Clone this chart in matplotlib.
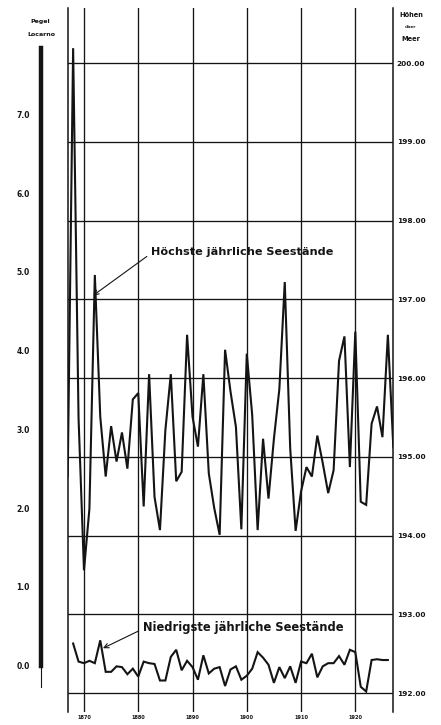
import matplotlib.pyplot as plt

# Jahre und Seestände (m ü. M.), Lago Maggiore
hoch_jahre = list(range(1867, 1928))
hoch = [194.75, 200.19, 195.49, 193.56, 194.34, 197.31, 195.51, 194.75, 195.39, 194.94,
        195.31, 194.85, 195.73, 195.81, 194.37, 196.05, 194.49, 194.07, 195.34, 196.05,
        194.69, 194.81, 196.55, 195.51, 195.13, 196.05, 194.79, 194.35, 194.01, 196.36,
        195.83, 195.38, 194.08, 196.31, 195.53, 194.07, 195.23, 194.47, 195.23, 195.86,
        197.22, 195.11, 194.06, 194.56, 194.87, 194.75, 195.27, 194.92, 194.54, 194.83,
        196.22, 196.53, 194.87, 196.59, 194.43, 194.39, 195.42, 195.64, 195.25, 196.55,
        195.13]

tief_jahre = list(range(1868, 1927))
tief = [192.63, 192.40, 192.38, 192.41, 192.38, 192.67, 192.27, 192.27, 192.34, 192.33,
        192.24, 192.31, 192.21, 192.40, 192.38, 192.37, 192.16, 192.16, 192.46, 192.55,
        192.29, 192.41, 192.33, 192.17, 192.48, 192.25, 192.31, 192.33, 192.09, 192.30,
        192.34, 192.17, 192.22, 192.31, 192.52, 192.45, 192.36, 192.13, 192.33, 192.19,
        192.34, 192.13, 192.40, 192.38, 192.50, 192.20, 192.34, 192.38, 192.38, 192.47,
        192.36, 192.55, 192.52, 192.08, 192.02, 192.42, 192.43, 192.42, 192.42]

jahr_ticks = [1870, 1880, 1890, 1900, 1910, 1920]
hoehen_ticks = [192, 193, 194, 195, 196, 197, 198, 199, 200]
pegel_ticks = [0, 1, 2, 3, 4, 5, 6, 7]
pegel_null = 192.35   # Nullpunkt Pegel Locarno
pegel_max = 7.84

ink = '#141414'
W, H = 441, 725
ylo, yhi = 191.76, 200.70

fig = plt.figure(figsize=(W / 100, H / 100), dpi=100)
fig.patch.set_facecolor('white')

# Hauptdiagramm
ax = fig.add_axes([67.7 / W, 1 - 712 / H, (393.3 - 67.7) / W, (712 - 8) / H])
ax.set_xlim(1867, 1927)
ax.set_ylim(ylo, yhi)
ax.plot(hoch_jahre, hoch, color=ink, lw=1.5, solid_joinstyle='miter')
ax.plot(tief_jahre, tief, color=ink, lw=1.5, solid_joinstyle='miter')

ax.set_xticks(jahr_ticks)
ax.set_xticklabels([str(j) for j in jahr_ticks], fontsize=3.6, fontweight='bold', color=ink)
ax.yaxis.tick_right()
ax.set_yticks(hoehen_ticks)
ax.set_yticklabels(['%.2f' % h for h in hoehen_ticks], fontsize=5.3, fontweight='bold', color=ink)
ax.tick_params(axis='x', length=0, pad=2)
ax.tick_params(axis='y', length=0, pad=2.5)
ax.grid(True, color=ink, lw=0.95)
for s in ['top', 'bottom']:
    ax.spines[s].set_visible(False)
for s in ['left', 'right']:
    ax.spines[s].set_color(ink)
    ax.spines[s].set_linewidth(1.1)

# Beschriftungen der Kurven
ax.annotate('Höchste jährliche Seestände', xy=(1871.7, 197.05), xytext=(1882.3, 197.6),
            fontsize=8.1, fontweight='bold', color=ink, ha='left', va='center',
            arrowprops=dict(arrowstyle='->', color=ink, lw=0.8, shrinkA=1, shrinkB=0,
                            relpos=(0, 0.35)))
ax.annotate('Niedrigste jährliche Seestände', xy=(1873.5, 192.57), xytext=(1880.8, 192.83),
            fontsize=8.3, fontweight='bold', color=ink, ha='left', va='center',
            arrowprops=dict(arrowstyle='->', color=ink, lw=0.8, shrinkA=1, shrinkB=0,
                            relpos=(0, 0.4)))

# Pegel Locarno (linke Skala)
ax2 = fig.add_axes([41 / W, 1 - 712 / H, 4 / W, (712 - 8) / H])
ax2.set_ylim(ylo - pegel_null, yhi - pegel_null)
ax2.set_xlim(0, 1)
ax2.patch.set_visible(False)
for s in ['top', 'bottom', 'right']:
    ax2.spines[s].set_visible(False)
ax2.spines['left'].set_bounds(0, pegel_max)
ax2.spines['left'].set_linewidth(3.2)
ax2.spines['left'].set_color(ink)
ax2.plot([0, 0], [-0.27, 0], color=ink, lw=0.8, clip_on=False)
ax2.set_xticks([])
ax2.set_yticks(pegel_ticks)
ax2.set_yticklabels(['%.1f' % p for p in pegel_ticks], fontsize=5.5, fontweight='bold', color=ink)
ax2.tick_params(axis='y', length=0, pad=8)

fig.text(40 / W, 1 - 22 / H, 'Pegel', fontsize=4.5, fontweight='bold', ha='center', va='center', color=ink)
fig.text(41 / W, 1 - 35 / H, 'Locarno', fontsize=4.5, fontweight='bold', ha='center', va='center', color=ink)
fig.text(411 / W, 1 - 15 / H, 'Höhen', fontsize=4.8, fontweight='bold', ha='center', va='center', color=ink)
fig.text(410 / W, 1 - 27 / H, 'über', fontsize=3.2, fontweight='bold', ha='center', va='center', color=ink)
fig.text(411 / W, 1 - 39 / H, 'Meer', fontsize=4.8, fontweight='bold', ha='center', va='center', color=ink)

fig.savefig('out.png', dpi=100)
